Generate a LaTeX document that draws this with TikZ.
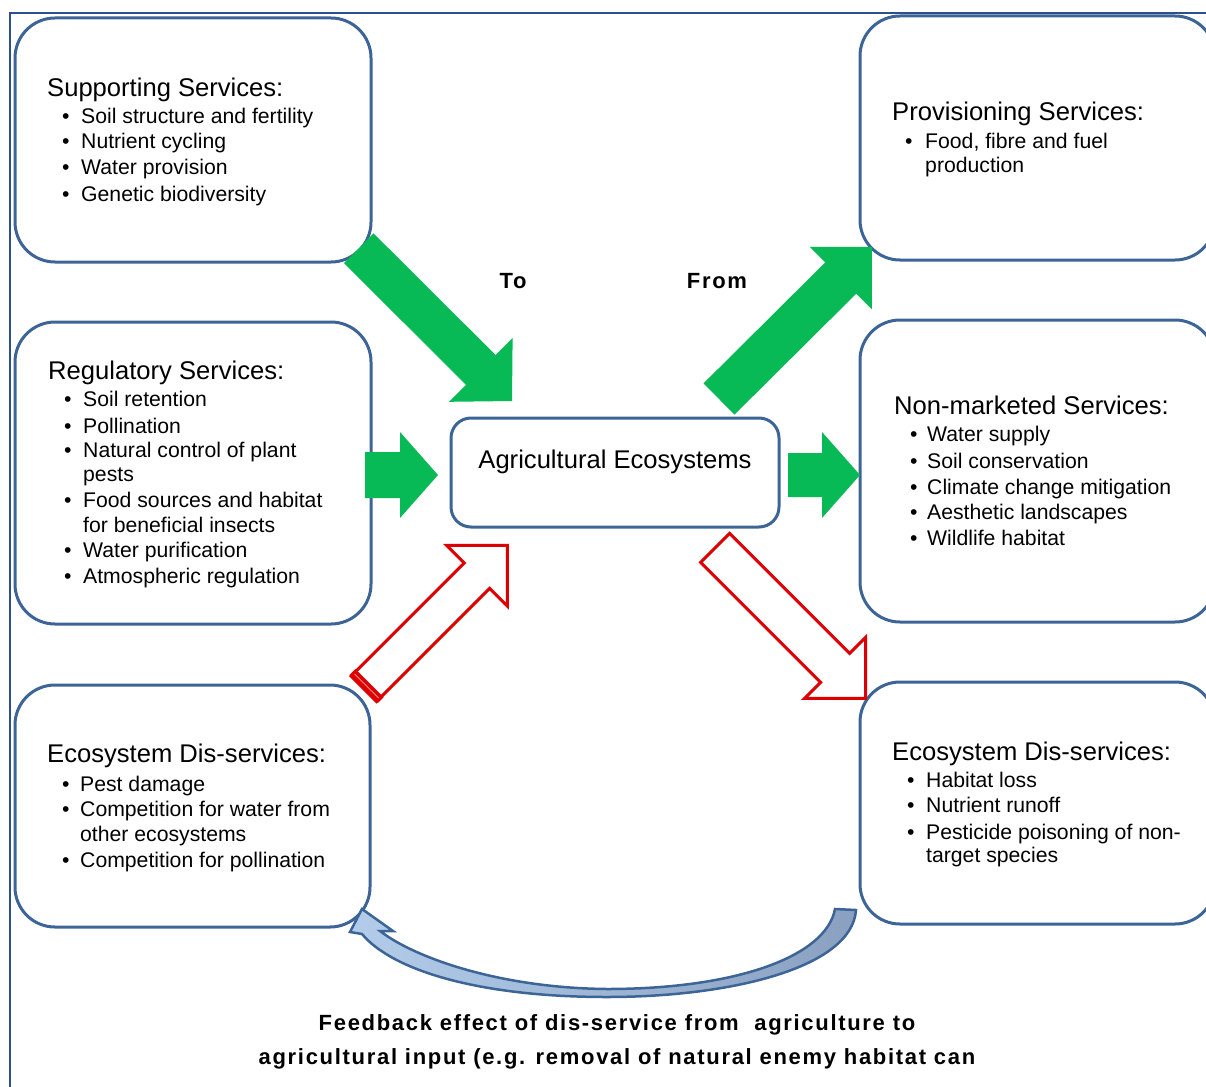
\documentclass[tikz,border=0pt]{standalone}
\usepackage{fontspec}
\setmainfont{Liberation Sans}
\newfontfamily\spacedsans{Liberation Sans}[LetterSpace=7.7]
\usetikzlibrary{calc}

\definecolor{boxblue}{RGB}{60,100,150}
\definecolor{framenavy}{RGB}{45,80,140}
\definecolor{flowgreen}{RGB}{8,186,86}
\definecolor{flowred}{RGB}{222,0,0}
\definecolor{loopfillA}{RGB}{178,204,234}
\definecolor{loopfillB}{RGB}{138,160,192}

\tikzset{
  panel/.style={draw=boxblue, line width=3pt, rounded corners=40pt, fill=white, inner sep=0pt},
  corebox/.style={draw=boxblue, line width=3pt, rounded corners=20pt, fill=white, inner sep=0pt},
  headtext/.style={anchor=base west, inner sep=0pt, font=\fontsize{25.6}{30}\selectfont},
  itemtext/.style={anchor=base west, inner sep=0pt, font=\fontsize{21.2}{25}\selectfont},
  boldtext/.style={anchor=base, inner sep=0pt, font=\fontsize{22}{26}\spacedsans\bfseries},
  greenflow/.style={fill=flowgreen},
  redflow/.style={draw=flowred, line width=3pt, fill=white, line join=miter},
  redband/.style={draw=flowred, line width=8pt},
  loopflow/.style={draw=boxblue, line width=2.5pt, left color=loopfillA, right color=loopfillB},
  frameline/.style={draw=framenavy, line width=1.5pt},
}

% block arrow: #1 style, #2 tail, #3 tip, #4 half shaft, #5 half head, #6 head length
\newcommand{\fatarrow}[6]{%
  \coordinate (fa-neck) at ($(#3)!#6!(#2)$);
  \path[#1] ($(#2)!#4!90:(#3)$)
    -- ($(fa-neck)!#4!90:(#3)$)
    -- ($(fa-neck)!#5!90:(#3)$)
    -- (#3)
    -- ($(fa-neck)!#5!-90:(#3)$)
    -- ($(fa-neck)!#4!-90:(#3)$)
    -- ($(#2)!#4!-90:(#3)$) -- cycle;
}

% bullet line: #1 name, #2 dot x, #3 text x, #4 baseline, #5 text
\newcommand{\bitem}[5]{%
  \node[itemtext] (#1-dot) at (#2-1,#4) {\textbullet};
  \node[itemtext] (#1) at (#3,#4) {#5};
}
% continuation line: #1 name, #2 text x, #3 baseline, #4 text
\newcommand{\bcont}[4]{\node[itemtext] (#1) at (#2,#3) {#4};}

\begin{document}
\begin{tikzpicture}[x=1pt,y=-1pt]
\useasboundingbox (0,0) rectangle (1206,1086);
\clip (0,0) rectangle (1206,1086);

% outer frame
\draw[frameline] (10,1090) -- (10,13) -- (1210,13);

% panels
\node[panel, minimum width=356pt, minimum height=244pt] (sup) at (193,140) {};
\node[panel, minimum width=356pt, minimum height=302pt] (reg) at (193,473) {};
\node[panel, minimum width=355pt, minimum height=242pt] (disL) at (192.5,806) {};
\node[panel, minimum width=355pt, minimum height=244pt] (prov) at (1037.5,138) {};
\node[panel, minimum width=355pt, minimum height=302pt] (nonm) at (1037.5,471) {};
\node[panel, minimum width=355pt, minimum height=242pt] (disR) at (1037.5,803) {};
\node[corebox, minimum width=328pt, minimum height=109pt] (agri) at (615,472.5) {};

% panel texts
\node[headtext] (supH) at (47,97) {Supporting Services:};
\bitem{sup1}{63}{81}{124}{Soil structure and fertility}
\bitem{sup2}{63}{81}{149}{Nutrient cycling}
\bitem{sup3}{63}{81}{175}{Water provision}
\bitem{sup4}{63}{81}{201}{Genetic biodiversity}

\node[headtext] (regH) at (48,379) {Regulatory Services:};
\bitem{reg1}{65}{83}{406}{Soil retention}
\bitem{reg2}{65}{83}{433}{Pollination}
\bitem{reg3}{65}{83}{457}{Natural control of plant}
\bcont{reg3b}{83}{481}{pests}
\bitem{reg4}{65}{83}{507}{Food sources and habitat}
\bcont{reg4b}{83}{532}{for beneficial insects}
\bitem{reg5}{65}{83}{557}{Water purification}
\bitem{reg6}{65}{83}{583}{Atmospheric regulation}

\node[headtext] (disLH) at (47,762) {Ecosystem Dis-services:};
\bitem{disL1}{63}{80}{791}{Pest damage}
\bitem{disL2}{63}{80}{816}{Competition for water from}
\bcont{disL2b}{80}{841}{other ecosystems}
\bitem{disL3}{63}{80}{867}{Competition for pollination}

\node[headtext] (provH) at (892,121) {Provisioning Services:};
\bitem{prov1}{906}{925}{149}{Food, fibre and fuel}
\bcont{prov1b}{925}{172}{production}

\node[headtext] (nonmH) at (894,414) {Non-marketed Services:};
\bitem{nonm1}{911}{927}{441}{Water supply}
\bitem{nonm2}{911}{927}{468}{Soil conservation}
\bitem{nonm3}{911}{927}{494}{Climate change mitigation}
\bitem{nonm4}{911}{927}{519}{Aesthetic landscapes}
\bitem{nonm5}{911}{927}{545}{Wildlife habitat}

\node[headtext] (disRH) at (892,760) {Ecosystem Dis-services:};
\bitem{disR1}{908}{926}{787}{Habitat loss}
\bitem{disR2}{908}{926}{812}{Nutrient runoff}
\bitem{disR3}{908}{926}{839}{Pesticide poisoning of non-}
\bcont{disR3b}{926}{862}{target species}

\node[headtext, anchor=base] (agriT) at (615,468) {Agricultural Ecosystems};

% flow labels
\node[boldtext] (lblTo) at (513,288) {To};
\node[boldtext] (lblFrom) at (717,288) {From};

% green flows into and out of the core box
\coordinate (g1a) at (358.75,248.25);
\coordinate (g1b) at (512,401);
\fatarrow{greenflow}{g1a}{g1b}{21pt}{45pt}{44pt}
\coordinate (g2a) at (365,475);
\coordinate (g2b) at (438,475);
\fatarrow{greenflow}{g2a}{g2b}{23pt}{43pt}{38pt}
\coordinate (g3a) at (719,399);
\coordinate (g3b) at (872,247);
\fatarrow{greenflow}{g3a}{g3b}{22pt}{44pt}{44pt}
\coordinate (g4a) at (788,475);
\coordinate (g4b) at (860,475);
\fatarrow{greenflow}{g4a}{g4b}{22pt}{43pt}{38pt}

% red hollow flows (dis-services)
\coordinate (r1a) at (363.8,688.8);
\coordinate (r1b) at (507.3,545.3);
\fatarrow{redflow}{r1a}{r1b}{18pt}{43pt}{43pt}
\coordinate (r1c) at ($(r1a)!4pt!(r1b)$);
\draw[redband] ($(r1c)!20pt!90:(r1b)$) -- ($(r1c)!20pt!-90:(r1b)$);
\draw[flowred!35, line width=0.8pt] ($(r1c)!17pt!90:(r1b)$) -- ($(r1c)!17pt!-90:(r1b)$);
\coordinate (r2a) at (715.2,547.9);
\coordinate (r2b) at (865.6,698.3);
\fatarrow{redflow}{r2a}{r2b}{20.5pt}{43pt}{43pt}

% curved feedback arrow along the bottom
\path[loopflow] (856,910)
  .. controls (852,968) and (730,997) .. (607,997)
  .. controls (478,997) and (392,970) .. (362,934)
  -- (350,932) -- (362,909) -- (393,931) -- (380,931)
  .. controls (415,958) and (500,988) .. (607,989)
  .. controls (735,989) and (826,957) .. (835,909) -- cycle;

% caption
\node[boldtext] (cap1) at (617,1030) {Feedback effect of dis-service from\ \ agriculture to};
\node[boldtext] (cap2) at (617,1064) {agricultural input (e.g. removal of natural enemy habitat can};
\end{tikzpicture}
\end{document}
